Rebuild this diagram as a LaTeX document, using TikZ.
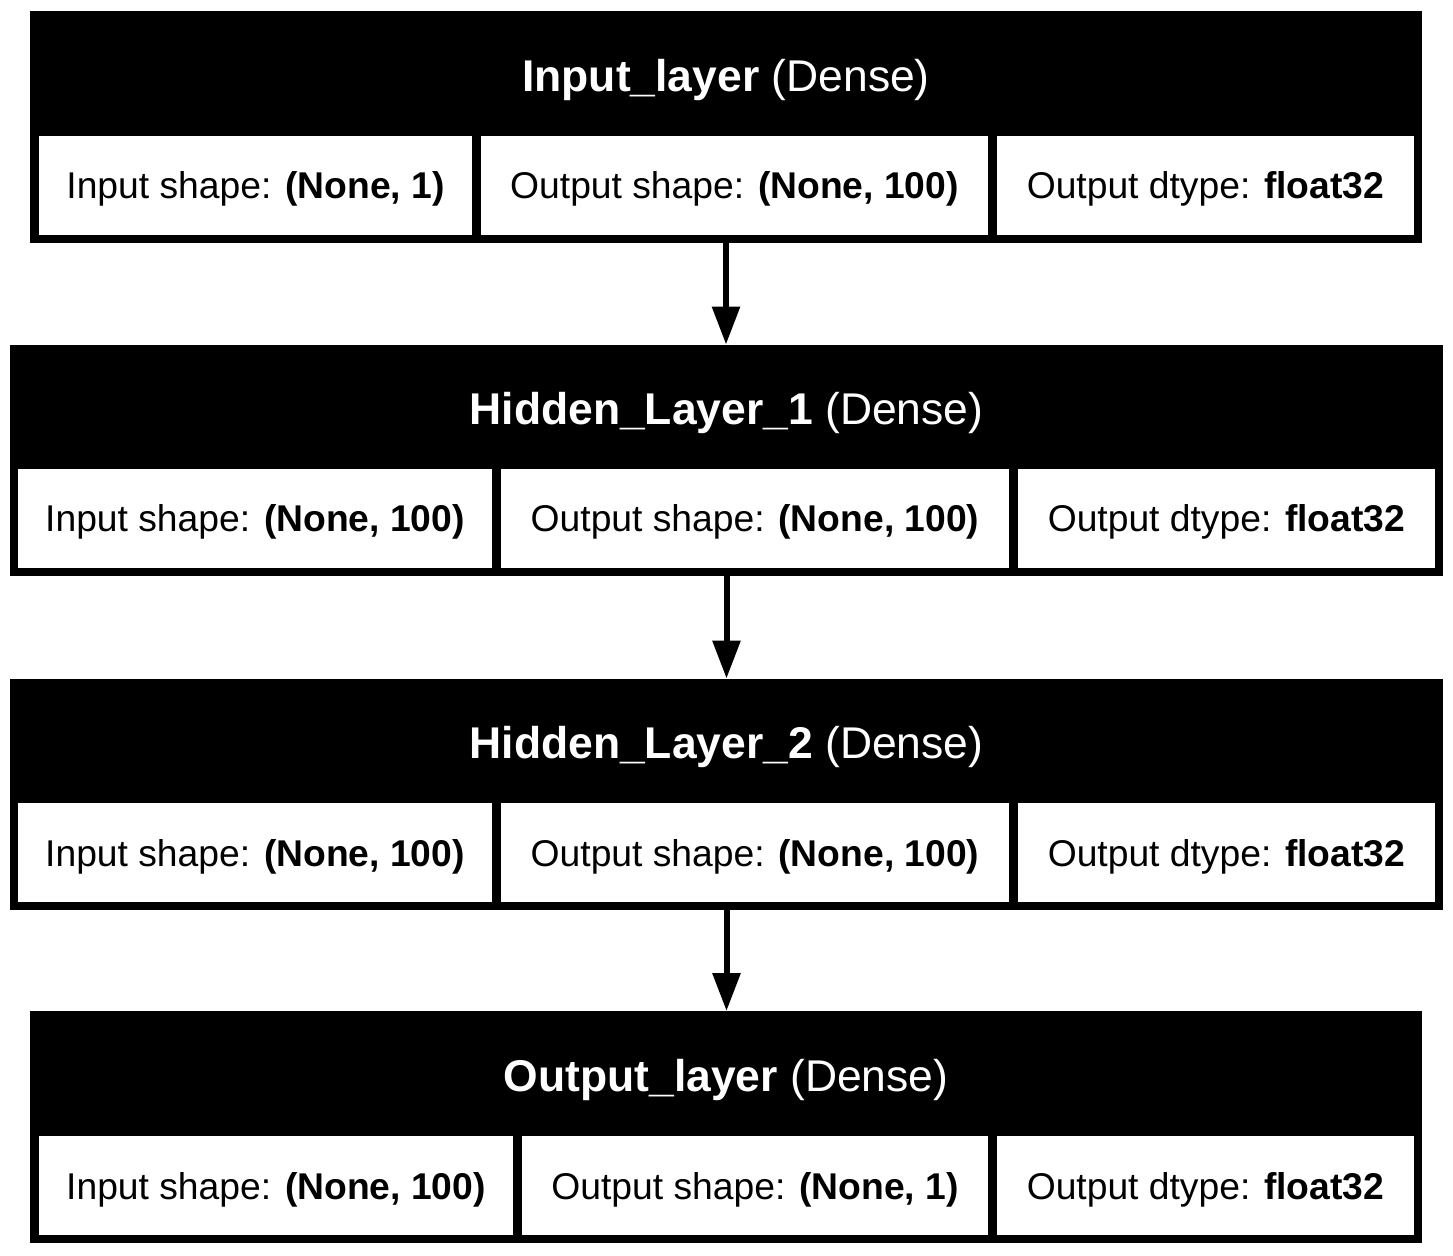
\documentclass[tikz,border=0pt]{standalone}
\usepackage{fontspec}
\setmainfont{Liberation Sans}
\usetikzlibrary{arrows.meta}

\tikzset{
  layerbox/.style={fill=black, inner sep=0pt, outer sep=0pt, minimum height=4.64cm},
  cellbox/.style={fill=white, inner sep=0pt, outer sep=0pt, minimum height=1.98cm,
    text depth=0pt, font=\fontsize{21.2}{25}\selectfont},
  titletext/.style={text=white, inner sep=0pt, text depth=0pt, font=\fontsize{25.3}{30}\selectfont},
  flow/.style={-{Triangle[length=0.76cm,width=0.54cm]}, line width=0.12cm},
}

\begin{document}
\begin{tikzpicture}[x=0.02cm, y=-0.02cm]
    \useasboundingbox (0,0) rectangle (1453,1256);

    % Layers
    \node[layerbox, minimum width=27.84cm] (inlayer) at (726,127) {};
    \node[layerbox, minimum width=28.66cm] (hidone) at (726.5,460.5) {};
    \node[layerbox, minimum width=28.66cm] (hidtwo) at (726.5,794.5) {};
    \node[layerbox, minimum width=27.84cm] (outlayer) at (726,1127) {};

    % Titles
    \node[titletext] (inlayer-t) at (726,75) {\textbf{Input\_layer} (Dense)};
    \node[titletext] (hidone-t) at (726.5,408) {\textbf{Hidden\_Layer\_1} (Dense)};
    \node[titletext] (hidtwo-t) at (726.5,742) {\textbf{Hidden\_Layer\_2} (Dense)};
    \node[titletext] (outlayer-t) at (726,1075) {\textbf{Output\_layer} (Dense)};

    % Shape cells
    \node[cellbox, minimum width=8.66cm] (inlayer-a) at (255.5,185.5) {Input shape: \textbf{(None, 1)}};
    \node[cellbox, minimum width=10.14cm] (inlayer-b) at (734.5,185.5) {Output shape: \textbf{(None, 100)}};
    \node[cellbox, minimum width=8.34cm] (inlayer-c) at (1205.5,185.5) {Output dtype: \textbf{float32}};

    \node[cellbox, minimum width=9.48cm] (hidone-a) at (255,518.5) {Input shape: \textbf{(None, 100)}};
    \node[cellbox, minimum width=10.16cm] (hidone-b) at (755,518.5) {Output shape: \textbf{(None, 100)}};
    \node[cellbox, minimum width=8.34cm] (hidone-c) at (1226.5,518.5) {Output dtype: \textbf{float32}};

    \node[cellbox, minimum width=9.48cm] (hidtwo-a) at (255,852.5) {Input shape: \textbf{(None, 100)}};
    \node[cellbox, minimum width=10.16cm] (hidtwo-b) at (755,852.5) {Output shape: \textbf{(None, 100)}};
    \node[cellbox, minimum width=8.34cm] (hidtwo-c) at (1226.5,852.5) {Output dtype: \textbf{float32}};

    \node[cellbox, minimum width=9.48cm] (outlayer-a) at (276,1185.5) {Input shape: \textbf{(None, 100)}};
    \node[cellbox, minimum width=9.32cm] (outlayer-b) at (755,1185.5) {Output shape: \textbf{(None, 1)}};
    \node[cellbox, minimum width=8.34cm] (outlayer-c) at (1205.5,1185.5) {Output dtype: \textbf{float32}};

    % Arrows
    \draw[flow] (inlayer.south) -- (inlayer.south |- hidone.north);
    \draw[flow] (hidone.south) -- (hidone.south |- hidtwo.north);
    \draw[flow] (hidtwo.south) -- (hidtwo.south |- outlayer.north);
\end{tikzpicture}
\end{document}
